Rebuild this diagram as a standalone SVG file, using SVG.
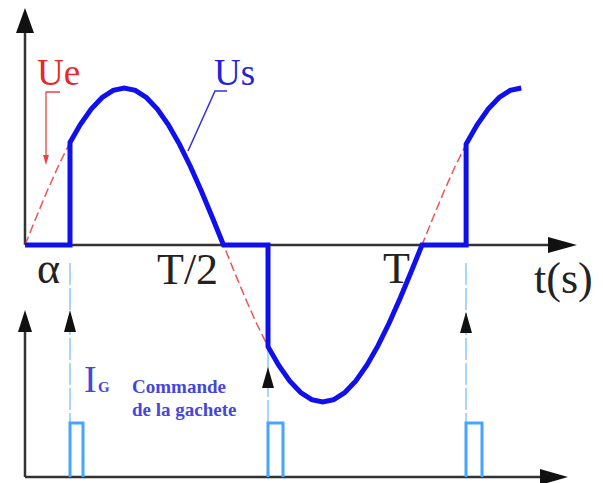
<svg xmlns="http://www.w3.org/2000/svg" width="603" height="483" viewBox="0 0 603 483">
<style>
.axis{stroke:#333;stroke-width:2.5;fill:none}
.head{fill:#111}
.lbl{font-family:"Liberation Serif","Times New Roman",serif;fill:#222;font-size:44px}
.ue{stroke:#ee5555;stroke-width:1.5;fill:none;stroke-dasharray:9,4}
.us{stroke:#1010ee;stroke-width:5;fill:none;stroke-linejoin:miter}
.gate{stroke:#8cc6ff;stroke-width:1.5;fill:none;stroke-dasharray:22,3}
.pulse{stroke:#45a5ff;stroke-width:3;fill:none}
.ig{font-family:"Liberation Serif","Times New Roman",serif;fill:#4646dc;font-weight:bold}
.ign{font-family:"Liberation Serif","Times New Roman",serif;fill:#4646dc;font-weight:normal}
</style>
<rect width="603" height="483" fill="#ffffff"/>
<g id="axes">
<line class="axis" x1="25" y1="245" x2="25" y2="30"/>
<polygon class="head" points="25,8 16,33 34,33"/>
<line class="axis" x1="25" y1="245" x2="552" y2="245"/>
<polygon class="head" points="577,245 548,237 548,253"/>
<line class="axis" x1="25" y1="477" x2="25" y2="328"/>
<polygon class="head" points="25,310 18,332 32,332"/>
<line class="axis" x1="25" y1="477" x2="545" y2="477"/>
<polygon class="head" points="568,477 540,469 540,485"/>
</g>
<g id="ue-curve">
<path class="ue" d="M25,245 L36.03,217.74 L47.06,191.3 L58.08,166.5 L69.11,144.08 L80.14,124.73 L91.17,109.03 L102.19,97.47 L113.22,90.38 L124.25,88 L135.28,90.38 L146.31,97.47 L157.33,109.03 L168.36,124.73 L179.39,144.08 L190.42,166.5 L201.44,191.3 L212.47,217.74 L223.5,245 L234.53,272.26 L245.56,298.7 L256.58,323.5 L267.61,345.92 L278.64,365.27 L289.67,380.97 L300.69,392.53 L311.72,399.62 L322.75,402 L333.78,399.62 L344.81,392.53 L355.83,380.97 L366.86,365.27 L377.89,345.92 L388.92,323.5 L399.94,298.7 L410.97,272.26 L422,245 L433.03,217.74 L444.06,191.3 L455.08,166.5 L466.11,144.08"/>
</g>
<g id="gate-lines">
<line class="gate" x1="70" y1="263" x2="70" y2="423"/>
<line class="gate" x1="268" y1="350" x2="268" y2="423"/>
<line class="gate" x1="466" y1="263" x2="466" y2="423"/>
<polygon class="head" points="70,310 64,332 76,332"/>
<polygon class="head" points="268,367 262,388 274,388"/>
<polygon class="head" points="466,312 460,333 472,333"/>
</g>
<g id="pulses">
<path class="pulse" d="M70,477 V423 H83 V477"/>
<path class="pulse" d="M268,477 V423 H283 V477"/>
<path class="pulse" d="M466,477 V423 H482 V477"/>
</g>
<g id="us-curve">
<path class="us" d="M25,245 H70 V142.4 L80.14,124.73 L91.17,109.03 L102.19,97.47 L113.22,90.38 L124.25,88 L135.28,90.38 L146.31,97.47 L157.33,109.03 L168.36,124.73 L179.39,144.08 L190.42,166.5 L201.44,191.3 L212.47,217.74 L223.5,245 H268 V346.65 L278.64,365.27 L289.67,380.97 L300.69,392.53 L311.72,399.62 L322.75,402 L333.78,399.62 L344.81,392.53 L355.83,380.97 L366.86,365.27 L377.89,345.92 L388.92,323.5 L399.94,298.7 L410.97,272.26 L422,245 H466.11 V144.08 L477.14,124.73 L488.17,109.03 L499.19,97.47 L510.22,90.38 L521.25,88"/>
</g>
<g id="label-ue">
<text x="37" y="85" font-family="Liberation Serif, serif" font-size="37" fill="#e8282a">Ue</text>
<path d="M60,92 H46 V156" stroke="#e84444" stroke-width="1.3" fill="none"/>
<polygon points="46,165 43,155 49,155" fill="#e84444"/>
</g>
<g id="label-us">
<text x="214" y="85" font-family="Liberation Serif, serif" font-size="37" fill="#2222dd">Us</text>
<path d="M227,91 H215 L188,151" stroke="#3030dd" stroke-width="1.5" fill="none"/>
</g>
<g id="axis-labels">
<text class="lbl" x="37" y="283" font-size="40">α</text>
<text class="lbl" x="157" y="284">T/2</text>
<text class="lbl" x="383" y="283">T</text>
<text class="lbl" x="534" y="293">t(s)</text>
</g>
<g id="label-ig">
<text class="ign" x="84" y="392" font-size="38">I</text>
<text class="ig" x="98" y="392" font-size="15">G</text>
<text class="ig" x="132" y="393" font-size="19">Commande</text>
<text class="ig" x="132" y="416" font-size="19">de la gachete</text>
</g>
</svg>
